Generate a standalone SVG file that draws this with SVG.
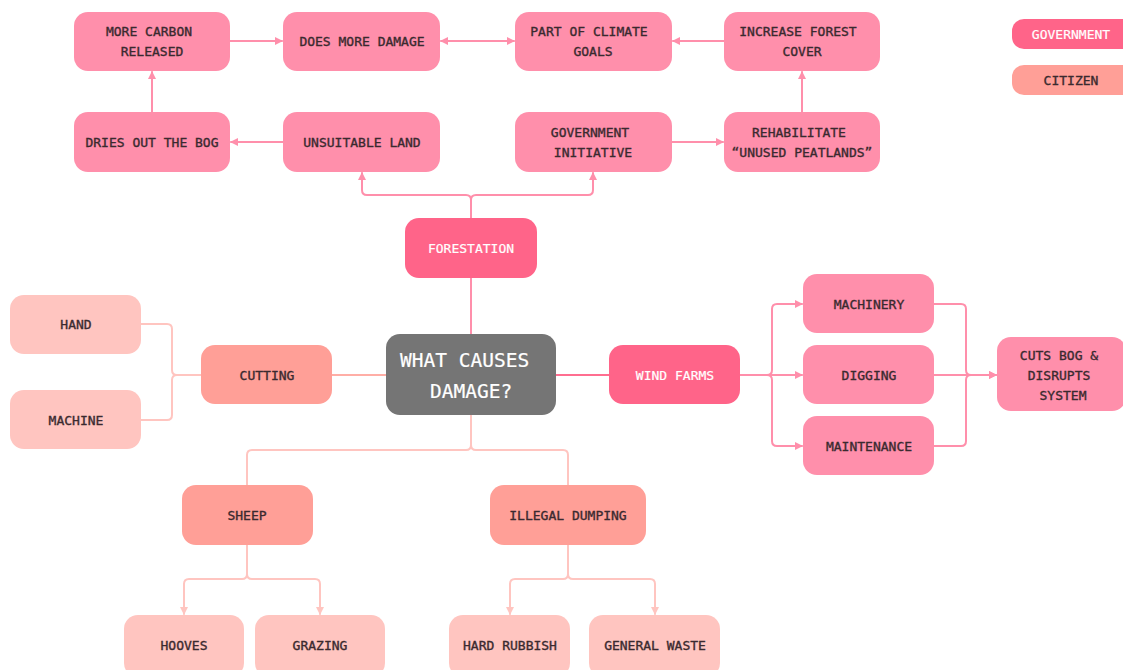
<svg xmlns="http://www.w3.org/2000/svg" width="1123" height="670" viewBox="0 0 1123 670">
  <style>
    .n rect { rx: 14px; ry: 14px; }
    .pink rect { fill: #ff8fab; }
    .gov rect { fill: #ff6489; }
    .cit rect { fill: #ff9f97; }
    .sub rect { fill: #ffc5c0; }
    .core rect { fill: #757575; }
    text { font-family: "DejaVu Sans Mono", "Liberation Mono", monospace; font-size: 13px; fill: #3a2a2f; stroke: #3a2a2f; stroke-width: 0.35px; text-anchor: middle; }
    .gov text, .core text { fill: #ffffff; stroke: #ffffff; stroke-width: 0.2px; }
    .core text { font-size: 19.5px; text-anchor: start; }
    .c path { fill: none; stroke-width: 2; stroke-linecap: round; stroke-linejoin: round; }
    .cp { stroke: #ff8fab; }
    .cl { stroke: #ffc5c0; }
    .cs { stroke: #ffaea6; }
    .cg { stroke: #ff6e90; }
  </style>
  <defs>
    <marker id="ap" viewBox="0 0 8 8" refX="7" refY="4" markerWidth="8" markerHeight="8" markerUnits="userSpaceOnUse" orient="auto-start-reverse">
      <path d="M0,0 L8,4 L0,8 z" fill="#ff8fab"/>
    </marker>
    <marker id="al" viewBox="0 0 8 8" refX="7" refY="4" markerWidth="8" markerHeight="8" markerUnits="userSpaceOnUse" orient="auto-start-reverse">
      <path d="M0,0 L8,4 L0,8 z" fill="#ffc5c0"/>
    </marker>
  </defs>
  <rect width="1123" height="670" fill="#ffffff"/>

  <!-- connectors -->
  <g id="connectors" class="c">
    <path class="cp" d="M152,112 V72" marker-end="url(#ap)"/>
    <path class="cp" d="M230,41 H282" marker-end="url(#ap)"/>
    <path class="cp" d="M441,41 H514" marker-start="url(#ap)" marker-end="url(#ap)"/>
    <path class="cp" d="M724,41 H673" marker-end="url(#ap)"/>
    <path class="cp" d="M283,142 H231" marker-end="url(#ap)"/>
    <path class="cp" d="M672,142 H723" marker-end="url(#ap)"/>
    <path class="cp" d="M802,112 V72" marker-end="url(#ap)"/>
    <path class="cp" d="M471,218 V200 Q471,195 466,195 H367 Q362,195 362,190 V173" marker-end="url(#ap)"/>
    <path class="cp" d="M471,200 Q471,195 476,195 H588 Q593,195 593,190 V173" marker-end="url(#ap)"/>
    <path class="cp" d="M471,278 V334"/>
    <path class="cg" d="M556,375 H609"/>
    <path class="cs" d="M386,375 H332"/>
    <path class="cl" d="M201,375 H177 Q172,375 172,370 V329 Q172,324 167,324 H141"/>
    <path class="cl" d="M177,375 Q172,375 172,380 V415 Q172,420 167,420 H141"/>
    <path class="cp" d="M740,375 H802" marker-end="url(#ap)"/>
    <path class="cp" d="M767,375 Q772,375 772,370 V309 Q772,304 777,304 H802" marker-end="url(#ap)"/>
    <path class="cp" d="M767,375 Q772,375 772,380 V441 Q772,446 777,446 H802" marker-end="url(#ap)"/>
    <path class="cp" d="M934,304 H961 Q966,304 966,309 V370 Q966,375 971,375 H996" marker-end="url(#ap)"/>
    <path class="cp" d="M934,375 H996" marker-end="url(#ap)"/>
    <path class="cp" d="M934,446 H961 Q966,446 966,441 V380 Q966,375 971,375"/>
    <path class="cl" d="M471,415 V445 Q471,450 466,450 H252 Q247,450 247,455 V485"/>
    <path class="cl" d="M471,445 Q471,450 476,450 H563 Q568,450 568,455 V485"/>
    <path class="cl" d="M247,545 V574 Q247,579 242,579 H189 Q184,579 184,584 V614" marker-end="url(#al)"/>
    <path class="cl" d="M247,574 Q247,579 252,579 H315 Q320,579 320,584 V614" marker-end="url(#al)"/>
    <path class="cl" d="M568,545 V574 Q568,579 563,579 H515 Q510,579 510,584 V614" marker-end="url(#al)"/>
    <path class="cl" d="M568,574 Q568,579 573,579 H650 Q655,579 655,584 V614" marker-end="url(#al)"/>
  </g>

  <!-- forestation branch -->
  <g id="more-carbon" class="n pink"><rect x="74" y="12" width="156" height="59"/><text x="149" y="36">MORE CARBON</text><text x="152" y="56">RELEASED</text></g>
  <g id="does-more-damage" class="n pink"><rect x="283" y="12" width="157" height="59"/><text x="362" y="46">DOES MORE DAMAGE</text></g>
  <g id="climate-goals" class="n pink"><rect x="515" y="12" width="157" height="59"/><text x="589" y="36">PART OF CLIMATE</text><text x="593" y="56">GOALS</text></g>
  <g id="forest-cover" class="n pink"><rect x="724" y="12" width="156" height="59"/><text x="798" y="36">INCREASE FOREST</text><text x="802" y="56">COVER</text></g>
  <g id="dries-bog" class="n pink"><rect x="74" y="112" width="156" height="60"/><text x="152" y="147">DRIES OUT THE BOG</text></g>
  <g id="unsuitable-land" class="n pink"><rect x="283" y="112" width="157" height="60"/><text x="362" y="147">UNSUITABLE LAND</text></g>
  <g id="gov-initiative" class="n pink"><rect x="515" y="112" width="157" height="60"/><text x="590" y="137">GOVERNMENT</text><text x="593" y="157">INITIATIVE</text></g>
  <g id="rehabilitate" class="n pink"><rect x="724" y="112" width="156" height="60"/><text x="799" y="137">REHABILITATE</text><text x="802" y="157">“UNUSED PEATLANDS”</text></g>
  <g id="forestation" class="n gov"><rect x="405" y="218" width="132" height="60"/><text x="471" y="253">FORESTATION</text></g>

  <!-- centre -->
  <g id="what-causes" class="n core"><rect x="386" y="334" width="170" height="81"/><text x="400" y="367">WHAT CAUSES</text><text x="430" y="398">DAMAGE?</text></g>

  <!-- cutting branch -->
  <g id="cutting" class="n cit"><rect x="201" y="345" width="131" height="59"/><text x="267" y="380">CUTTING</text></g>
  <g id="hand" class="n sub"><rect x="10" y="295" width="131" height="59"/><text x="76" y="329">HAND</text></g>
  <g id="machine" class="n sub"><rect x="10" y="390" width="131" height="59"/><text x="76" y="425">MACHINE</text></g>

  <!-- wind farm branch -->
  <g id="wind-farms" class="n gov"><rect x="609" y="345" width="131" height="59"/><text x="675" y="380">WIND FARMS</text></g>
  <g id="machinery" class="n pink"><rect x="803" y="274" width="131" height="59"/><text x="869" y="309">MACHINERY</text></g>
  <g id="digging" class="n pink"><rect x="803" y="345" width="131" height="59"/><text x="869" y="380">DIGGING</text></g>
  <g id="maintenance" class="n pink"><rect x="803" y="416" width="131" height="59"/><text x="869" y="451">MAINTENANCE</text></g>
  <g id="cuts-bog" class="n pink"><rect x="997" y="337" width="129" height="74"/><text x="1059" y="360">CUTS BOG &amp;</text><text x="1059" y="380">DISRUPTS</text><text x="1063" y="400">SYSTEM</text></g>

  <!-- sheep branch -->
  <g id="sheep" class="n cit"><rect x="182" y="485" width="131" height="60"/><text x="247" y="520">SHEEP</text></g>
  <g id="hooves" class="n sub"><rect x="124" y="615" width="120" height="62"/><text x="184" y="650">HOOVES</text></g>
  <g id="grazing" class="n sub"><rect x="255" y="615" width="130" height="62"/><text x="320" y="650">GRAZING</text></g>

  <!-- dumping branch -->
  <g id="illegal-dumping" class="n cit"><rect x="490" y="485" width="156" height="60"/><text x="568" y="520">ILLEGAL DUMPING</text></g>
  <g id="hard-rubbish" class="n sub"><rect x="449" y="615" width="121" height="62"/><text x="510" y="650">HARD RUBBISH</text></g>
  <g id="general-waste" class="n sub"><rect x="589" y="615" width="131" height="62"/><text x="655" y="650">GENERAL WASTE</text></g>

  <!-- legend -->
  <g id="legend-government" class="n gov"><rect x="1012" y="19" width="125" height="30" style="rx:12px;ry:12px"/><text x="1071" y="39">GOVERNMENT</text></g>
  <g id="legend-citizen" class="n cit"><rect x="1012" y="65" width="125" height="30" style="rx:12px;ry:12px"/><text x="1071" y="85">CITIZEN</text></g>
</svg>
